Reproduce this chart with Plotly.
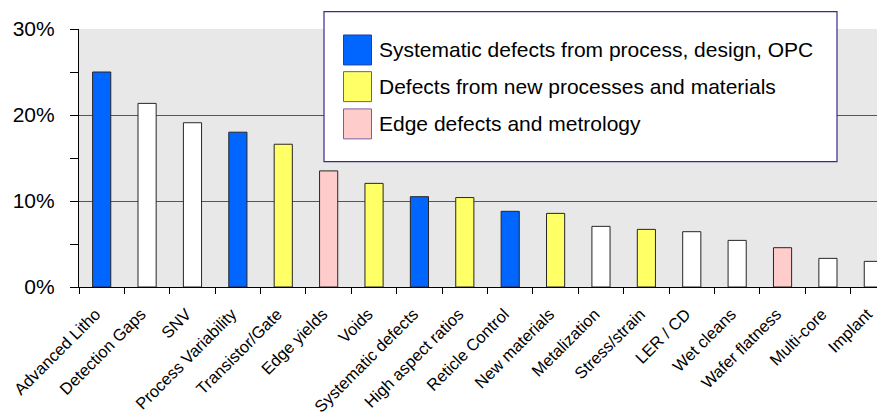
import plotly.graph_objects as go

categories = ["Advanced Litho", "Detection Gaps", "SNV", "Process Variability",
              "Transistor/Gate", "Edge yields", "Voids", "Systematic defects",
              "High aspect ratios", "Reticle Control", "New materials", "Metalization",
              "Stress/strain", "LER / CD", "Wet cleans", "Wafer flatness",
              "Multi-core", "Implant"]
values = [25.0, 21.35, 19.1, 18.0, 16.6, 13.5, 12.05, 10.5, 10.4, 8.8, 8.56,
          7.05, 6.7, 6.43, 5.42, 4.57, 3.33, 2.98]
groups = ["sys", "other", "other", "sys", "new", "edge", "new", "sys", "new", "sys",
          "new", "other", "new", "other", "other", "edge", "other", "other"]

legend_keys = ["sys", "new", "edge"]
legend_labels = ["Systematic defects from process, design, OPC",
                 "Defects from new processes and materials",
                 "Edge defects and metrology"]
group_colors = {"sys": "#0066ff", "new": "#ffff66", "edge": "#ffcccc", "other": "#ffffff"}
swatch_borders = {"sys": "#1f3f9f", "new": "#6a5f8f", "edge": "#7a5f9f"}

# page body has an 8px margin: figure is placed at (8, 8) in the window
OFF = 8
WIN_W, WIN_H = 885, 412
W, H = WIN_W - OFF, WIN_H - OFF
plot_l, plot_t, plot_b, plot_r = 79, 29, 287.3, 885   # in window pixels
ml, mt, mb, mr = plot_l - OFF, plot_t - OFF, WIN_H - plot_b, WIN_W - plot_r
pw, ph = plot_r - plot_l, plot_b - plot_t
cat_px = 45.39
xmax = -0.5 + pw / cat_px

fig = go.Figure()
fig.add_trace(go.Bar(
    x=categories, y=values,
    marker=dict(color=[group_colors[g] for g in groups],
                line=dict(color="#262626", width=1)),
    width=0.4, showlegend=False, hoverinfo="x+y"))

font_family = "Liberation Sans, Arial, sans-serif"

def px_x(x):
    return (x - plot_l) / pw

def px_y(y):
    return (plot_b - y) / ph

shapes = []
annotations = []
# legend box
shapes.append(dict(type="rect", xref="paper", yref="paper",
                   x0=px_x(324), x1=px_x(837), y0=px_y(161.7), y1=px_y(11.7),
                   fillcolor="white", line=dict(color="#3b2a87", width=1.2), layer="above"))
row_tops = [35, 71.7, 109]
for k, lab, top in zip(legend_keys, legend_labels, row_tops):
    shapes.append(dict(type="rect", xref="paper", yref="paper",
                       x0=px_x(343.5), x1=px_x(371.5), y0=px_y(top + 30), y1=px_y(top),
                       fillcolor=group_colors[k], line=dict(color=swatch_borders[k], width=1),
                       layer="above"))
    annotations.append(dict(xref="paper", yref="paper", x=px_x(377), y=px_y(top + 15),
                            text=lab, showarrow=False, xanchor="left", yanchor="middle",
                            font=dict(size=21, color="black", family=font_family)))

fig.update_layout(
    width=W, height=H,
    margin=dict(l=ml, r=mr, t=mt, b=mb, pad=0, autoexpand=False),
    paper_bgcolor="white", plot_bgcolor="#e8e8e8",
    font=dict(family=font_family, color="black"),
    shapes=shapes, annotations=annotations,
    bargap=0.6,
)
fig.update_xaxes(
    range=[-0.5, xmax], tickangle=-45, tickson="boundaries", automargin=False,
    ticks="outside", ticklen=6, tickcolor="black", tickwidth=1,
    showline=True, linecolor="black", linewidth=1.2,
    showgrid=False, tickfont=dict(size=16.5, color="black"),
    ticklabelstandoff=10, ticklabelshift=-6,
)
fig.update_yaxes(
    range=[0, 30], dtick=10, ticksuffix="%", automargin=False,
    ticks="outside", ticklen=8, tickcolor="black", tickwidth=1,
    showline=True, linecolor="black", linewidth=1.2,
    showgrid=True, gridcolor="#555555", gridwidth=1, zeroline=False,
    minor=dict(dtick=5, ticks="outside", ticklen=8, tickcolor="black", showgrid=False),
    tickfont=dict(size=21, color="black"), ticklabelstandoff=11,
)
fig.write_html("out.html")
